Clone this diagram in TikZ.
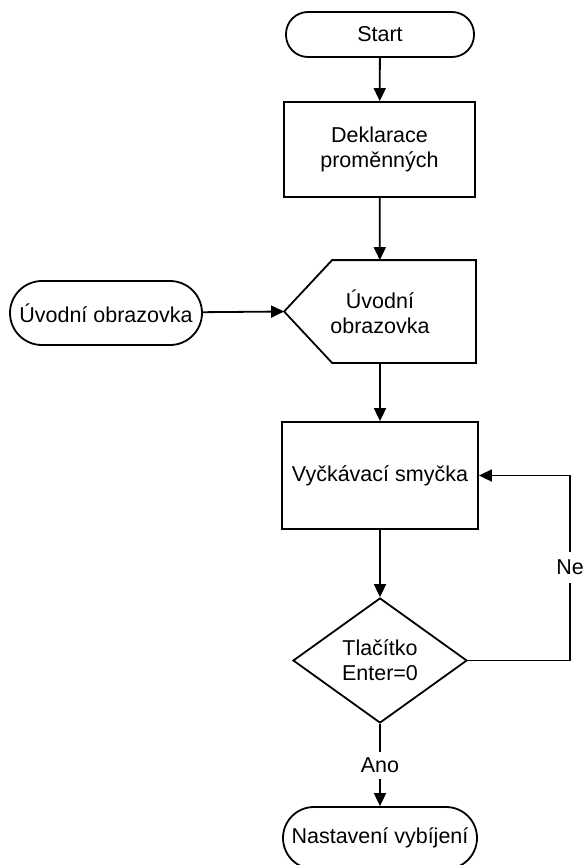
\documentclass[tikz,border=0pt]{standalone}
\usepackage{fontspec}
\setmainfont{Liberation Sans}
\usetikzlibrary{arrows.meta,shapes.geometric,positioning}

\begin{document}
\begin{tikzpicture}[x=1pt, y=-1pt, line width=1.8pt,
  font=\fontsize{21.5}{25}\selectfont,
  every node/.style={align=center, inner sep=2pt},
  term/.style={draw, rectangle, rounded corners=22pt, minimum width=188pt, minimum height=45pt},
  proc/.style={draw, rectangle, minimum width=191pt, minimum height=95pt},
  cond/.style={draw, diamond, inner sep=0pt, minimum width=174pt, minimum height=125pt},
  lbl/.style={inner sep=5pt},
  arr/.style={-{Triangle[length=13pt, width=12pt]}}]
\clip (0,0) rectangle (584,865);
% uzly
\node[term] (start) at (380,34.5) {Start};
\node[proc] (dekl) at (379.5,149.5) {Deklarace\\proměnných};
\node[minimum width=190pt, minimum height=101pt] (uvod) at (380,311.5) {Úvodní\\obrazovka};
\draw (uvod.north west) ++(48,0) -- (uvod.north east) -- (uvod.south east)
  -- ([xshift=48pt]uvod.south west) -- (uvod.west) -- cycle;
\node[term, minimum width=192pt, minimum height=64pt, rounded corners=32pt] (obraz) at (106,313) {Úvodní obrazovka};
\node[proc, minimum width=196pt, minimum height=107pt] (smycka) at (380,475.5) {Vyčkávací smyčka};
\node[cond] (tlac) at (380,660.5) {Tlačítko\\Enter=0};
\node[lbl] (ano) at (380,765.5) {Ano};
\node[lbl, inner ysep=7pt] (ne) at (570,567.5) {Ne};
\node[term, minimum width=194pt, minimum height=62pt, rounded corners=31pt] (konec) at (380,838) {Nastavení vybíjení};
% spojnice
\draw[arr] (start) -- (dekl);
\draw[arr] (dekl) -- (uvod);
\draw[arr] (obraz) -- (uvod.west);
\draw[arr] (uvod) -- (smycka);
\draw[arr] (smycka) -- (tlac);
\draw (tlac.east) -| (ne.south);
\draw[arr] (ne.north) |- (smycka.east);
\draw (tlac.south) -- (ano.north);
\draw[arr] (ano.south) -- (konec.north);
\end{tikzpicture}
\end{document}
